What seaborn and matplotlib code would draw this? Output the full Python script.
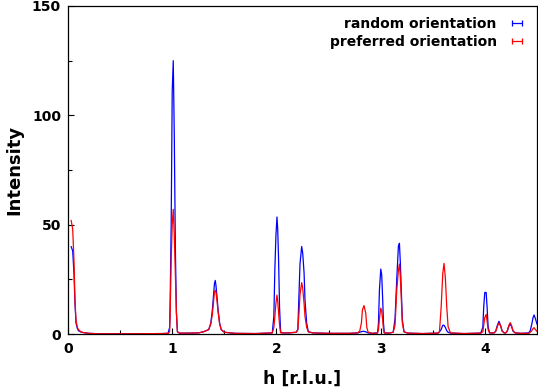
import matplotlib
matplotlib.use("Agg")
import matplotlib.pyplot as plt
from matplotlib.lines import Line2D
import seaborn as sns
import pandas as pd

# scan positions (h in r.l.u.) and intensities
h = [0.03, 0.045, 0.057, 0.067, 0.077, 0.09, 0.10, 0.13, 0.20, 0.30, 0.60, 0.90,
     0.96, 0.975, 0.98, 0.99, 1.00, 1.01, 1.02, 1.03, 1.04, 1.05, 1.07, 1.15,
     1.25, 1.30, 1.35, 1.37, 1.385, 1.395, 1.405, 1.413, 1.42, 1.43, 1.44, 1.455, 1.47, 1.50, 1.60, 1.80,
     1.96, 1.975, 1.985, 1.995, 2.005, 2.012, 2.02, 2.03, 2.04, 2.06, 2.12,
     2.19, 2.205, 2.217, 2.226, 2.242, 2.252, 2.265, 2.274, 2.29, 2.306, 2.35, 2.50, 2.70,
     2.78, 2.80, 2.815, 2.825, 2.84, 2.857, 2.867, 2.88, 2.92,
     2.97, 2.979, 2.988, 3.001, 3.01, 3.02, 3.027, 3.035, 3.08,
     3.12, 3.138, 3.154, 3.17, 3.18, 3.189, 3.199, 3.208, 3.224, 3.26, 3.40,
     3.55, 3.564, 3.58, 3.596, 3.608, 3.621, 3.634, 3.647, 3.67, 3.80,
     3.96, 3.98, 3.989, 3.999, 4.012, 4.021, 4.031, 4.045,
     4.09, 4.105, 4.12, 4.135, 4.15, 4.165, 4.185,
     4.20, 4.215, 4.23, 4.243, 4.255, 4.27, 4.29, 4.35,
     4.42, 4.435, 4.45, 4.462, 4.472, 4.485, 4.50]

random_int = [40, 38, 28, 14, 5, 2.5, 1.5, 0.8, 0.3, 0.1, 0.1, 0.2,
              0.3, 3, 14, 50, 111, 125, 90, 40, 10, 1, 0.4, 0.4,
              0.5, 1, 2, 5, 11, 17, 23, 24.5, 22, 17, 11, 5, 2, 0.8, 0.3, 0.2,
              0.5, 8, 30, 45, 53.5, 48, 35, 12, 1, 0.5, 0.5,
              0.8, 2, 20, 32, 40, 37, 28, 15.5, 5, 1, 0.5, 0.3, 0.3,
              0.5, 0.8, 1, 1.2, 1.2, 1, 0.8, 0.5, 0.3,
              0.5, 5, 20, 29.7, 27, 15, 5, 0.5, 0.4,
              0.8, 7, 24.7, 40, 41.5, 32.3, 18.6, 6.4, 1, 0.4, 0.2,
              0.4, 1, 2, 4, 4, 3, 1.5, 0.8, 0.4, 0.2,
              0.4, 3, 12.5, 19, 19, 12.5, 3.3, 0.5,
              0.5, 1.5, 4, 5.8, 4, 1.5, 0.5,
              0.5, 1.3, 3.5, 4.6, 3.5, 1.3, 0.5, 0.3,
              0.5, 1.5, 4.5, 7.5, 8.7, 7, 4.5]

preferred_int = [52, 48, 34, 15, 6, 3, 2, 0.8, 0.3, 0.1, 0.1, 0.2,
                 0.3, 1, 9, 34, 50, 57, 45, 28, 10, 1, 0.4, 0.4,
                 0.5, 1, 2, 4.5, 9, 14, 19, 20, 19, 15, 10, 4.5, 2, 0.8, 0.3, 0.2,
                 0.5, 3, 8, 14, 17.8, 15, 10, 4, 0.5, 0.5, 0.5,
                 0.8, 2, 10, 18, 23.5, 21, 14, 8, 3, 1, 0.5, 0.3, 0.3,
                 0.5, 1.5, 5, 11, 13, 9.5, 3, 0.8, 0.3,
                 0.5, 2, 7, 11.8, 10.5, 6, 2, 0.5, 0.4,
                 0.8, 4, 20, 29, 32, 26, 15.5, 5, 1, 0.4, 0.2,
                 0.4, 1, 12, 27.7, 32.3, 25.4, 12.5, 3.3, 0.5, 0.2,
                 0.4, 1, 4, 7.5, 9, 6, 2, 0.5,
                 0.5, 1.3, 3.5, 5, 3.8, 1.3, 0.5,
                 0.5, 1.5, 4, 5.2, 4, 1.5, 0.5, 0.3,
                 0.3, 0.8, 1.5, 2.5, 2.9, 2, 1.2]

labels = ["random orientation", "preferred orientation"]
colors = ["#0000ff", "#ff0000"]

df = pd.concat([
    pd.DataFrame({"h": h, "I": random_int, "series": labels[0]}),
    pd.DataFrame({"h": h, "I": preferred_int, "series": labels[1]}),
])

sns.set_style("ticks")
plt.rcParams["font.family"] = ["DejaVu Sans"]
plt.rcParams["font.weight"] = "bold"
plt.rcParams["text.color"] = "black"
plt.rcParams["axes.labelcolor"] = "black"

fig = plt.figure(figsize=(5.38, 3.91), dpi=100)
ax = fig.add_axes([68 / 538, 1 - 334 / 391, 469 / 538, 328 / 391])

sns.lineplot(data=df, x="h", y="I", hue="series", hue_order=labels,
             palette=colors, linewidth=0.9, legend=False, ax=ax)

ax.set_xlim(0, 4.5)
ax.set_ylim(0, 150)
ax.set_xticks([0, 1, 2, 3, 4])
ax.set_xticks([0.5, 1.5, 2.5, 3.5], minor=True)
ax.set_yticks([0, 50, 100, 150])
ax.set_yticks([25, 75, 125], minor=True)
ax.tick_params(which="both", direction="in", colors="black", labelsize=10, width=0.8)
ax.tick_params(which="major", length=4)
ax.tick_params(axis="x", which="major", pad=6)
ax.tick_params(axis="y", which="major", pad=5)
ax.tick_params(which="minor", length=3)
for s in ax.spines.values():
    s.set_color("black")
    s.set_linewidth(0.9)

ax.set_xlabel("h [r.l.u.]", fontsize=12.5, fontweight="bold", labelpad=10)
ax.set_ylabel("Intensity", fontsize=13, fontweight="bold", labelpad=6)

handles = [Line2D([], [], color=c, lw=0.9, marker="|", markersize=5, markeredgewidth=0.9)
           for c in colors]
ax.legend(handles, labels, loc="upper right", frameon=False, markerfirst=False,
          numpoints=2, handlelength=1.3, handletextpad=0.8, labelspacing=0.3,
          prop={"size": 10, "weight": "bold"}, borderaxespad=0.4)

fig.savefig("out.png", dpi=100)
